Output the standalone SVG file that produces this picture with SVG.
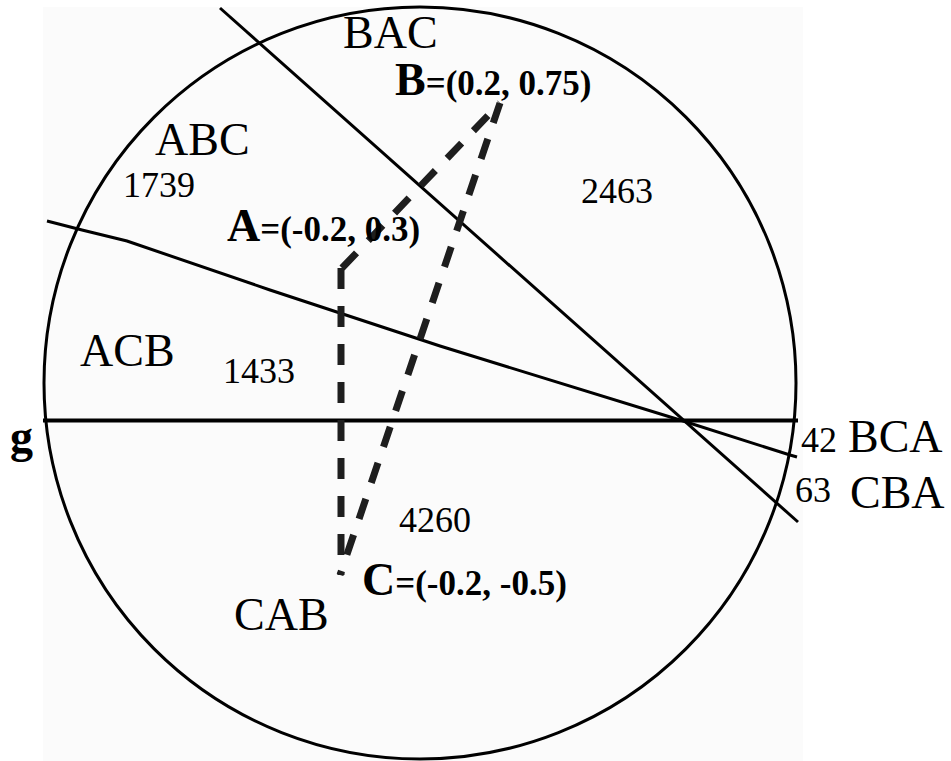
<svg xmlns="http://www.w3.org/2000/svg" width="951" height="761" viewBox="0 0 951 761">
<style>
.ln{fill:none;stroke:#000;stroke-width:3}
.dash{fill:none;stroke:#1e1e1e;stroke-width:7;stroke-dasharray:21 17}
.lab{font-family:"Liberation Serif","Times New Roman",serif;font-size:46px;fill:#000}
.num{font-family:"Liberation Serif","Times New Roman",serif;font-size:36px;fill:#000}
.pt{font-family:"Liberation Serif","Times New Roman",serif;font-weight:bold;font-size:35px;fill:#000}
.big{font-size:46px}
</style>
<rect id="background" x="43" y="7" width="760" height="754" fill="#fbfbfb"/>
<g id="circle">
<circle cx="420" cy="383" r="376" class="ln"/>
</g>
<g id="connectors">
<line x1="43" y1="420.5" x2="798" y2="420.5" stroke="#000" stroke-width="4"/>
<line x1="220" y1="8" x2="798" y2="522" class="ln"/>
<polyline points="47,221 82,230 127,241 270,290 440,346 680,420 790,455 797,457" class="ln"/>
<line x1="342" y1="268" x2="500" y2="103" class="dash"/>
<line x1="500" y1="103" x2="340" y2="575" class="dash"/>
<line x1="341" y1="268" x2="341" y2="575" class="dash"/>
</g>
<g id="regions">
<text class="lab" x="343" y="48" font-size="45">BAC</text>
<text class="lab" x="155" y="155">ABC</text>
<text class="num" x="123" y="197">1739</text>
<text class="num" x="581" y="203">2463</text>
<text class="lab" x="80" y="366">ACB</text>
<text class="num" x="223" y="383">1433</text>
<text class="num" x="801" y="452">42</text>
<text class="lab" x="848" y="452">BCA</text>
<text class="num" x="795" y="502">63</text>
<text class="lab" x="850" y="508">CBA</text>
<text class="num" x="399" y="532">4260</text>
<text class="lab" x="234" y="630">CAB</text>
</g>
<g id="pointA"><text class="pt" x="227" y="241"><tspan class="big">A</tspan>=(-0.2, 0.3)</text></g>
<g id="pointB"><text class="pt" x="395" y="95"><tspan class="big">B</tspan>=(0.2, 0.75)</text></g>
<g id="pointC"><text class="pt" x="362" y="595"><tspan class="big">C</tspan>=(-0.2, -0.5)</text></g>
<g id="lineg"><text class="pt big" x="10" y="452">g</text></g>
</svg>
